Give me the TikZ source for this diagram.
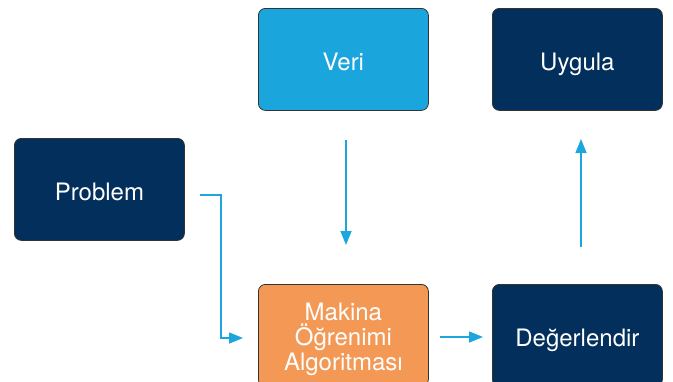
\documentclass[tikz,border=0pt]{standalone}
\usepackage{fontspec}
\setmainfont{TeX Gyre Heros}
\usetikzlibrary{arrows.meta}
\definecolor{navy}{HTML}{022F5C}
\definecolor{sky}{HTML}{1BA5DD}
\definecolor{orng}{HTML}{F39855}
\definecolor{arr}{HTML}{1DA6DE}
\begin{document}
\begin{tikzpicture}[x=1pt,y=-1pt,
  box/.style={draw=black!80, line width=0.8pt, rounded corners=7pt,
    minimum width=170pt, minimum height=102pt, text=white,
    font=\fontsize{24}{25}\selectfont, align=center, inner sep=0pt,
    anchor=north west},
  oneline/.style={text height=22pt, text depth=0pt},
  conn/.style={draw=arr, line width=1.5pt, -{Triangle[length=14pt,width=11pt]}}]
\useasboundingbox (0,0) rectangle (673,381);
\node[box, oneline, fill=navy] (prob) at (14,138) {Problem};
\node[box, oneline, fill=sky] (veri) at (258,8) {Veri};
\node[box, oneline, fill=navy] (uyg) at (492,8) {Uygula};
\node[box, fill=orng] (alg) at (258,284) {\rule{0pt}{25pt}Makina\\Öğrenimi\\Algoritması};
\node[box, oneline, fill=navy] (deg) at (492,284) {Değerlendir};
\coordinate (p1) at (200,195);
\coordinate (p2) at (243,338);
\coordinate (v1) at (346,140);
\coordinate (v2) at (346,245);
\coordinate (a1) at (440,337);
\coordinate (a2) at (483,337);
\coordinate (d1) at (581,247);
\coordinate (d2) at (581,139);
\draw[conn] (p1) -- ++(21,0) |- (p2);
\draw[conn] (v1) -- (v2);
\draw[conn] (a1) -- (a2);
\draw[conn] (d1) -- (d2);
\end{tikzpicture}
\end{document}
